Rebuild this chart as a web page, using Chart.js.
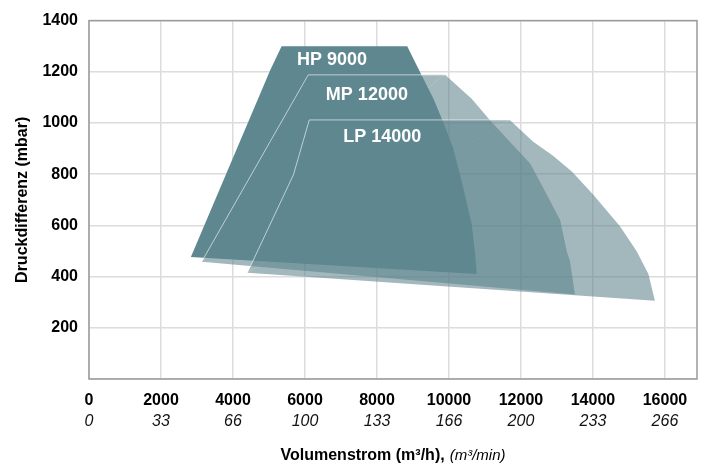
<!DOCTYPE html>
<html>
<head>
<meta charset="utf-8">
<script src="https://cdn.jsdelivr.net/npm/chart.js@4"></script>
<style>
html,body{margin:0;padding:0;background:#fff;}
#wrap{width:705px;height:466px;}
</style>
</head>
<body>
<div id="wrap"><canvas id="c" width="705" height="466"></canvas></div>
<script>
// ---- data ----
const seriesNames = ['HP 9000', 'MP 12000', 'LP 14000'];

const hpX = [2830, 5030, 5350, 8840, 9240, 9570, 9820, 10120, 10400, 10630, 10720, 10770];
const hpY = [477, 1205, 1300, 1300, 1187, 1095, 1010, 900, 745, 605, 500, 410];

const mpX = [3130, 5030, 6090, 9890, 10630, 11140, 11690, 12250, 12620, 13090, 13270, 13360, 13500];
const mpY = [458, 927, 1188, 1188, 1095, 1011, 927, 843, 746, 620, 500, 461, 330];

const lpX = [4400, 5680, 6120, 11690, 12340, 12900, 13420, 14010, 14750, 15210, 15540, 15720];
const lpY = [415, 798, 1012, 1012, 927, 871, 810, 720, 597, 500, 410, 306];

const xTickValues = [0, 2000, 4000, 6000, 8000, 10000, 12000, 14000, 16000];
const xTickLabelsMin = ['0', '33', '66', '100', '133', '166', '200', '233', '266'];
const yTickValues = [0, 200, 400, 600, 800, 1000, 1200, 1400];

const xTitleMain = 'Volumenstrom (m³/h),';
const xTitleSub = '(m³/min)';
const yTitle = 'Druckdifferenz (mbar)';

// label anchors (data coordinates)
const labelAnchorX = [5780, 6580, 7060];
const labelAnchorY = [1245, 1109, 946];

// ---- helpers ----
function closedPoly(xs, ys) {
  const pts = xs.map((x, i) => ({x: x, y: ys[i]}));
  pts.push({x: xs[0], y: ys[0]});
  return pts;
}

const BOLDF = '"Liberation Sans", Arial, sans-serif';
const REG = '"Liberation Sans", Arial, sans-serif';

const decor = {
  id: 'decor',
  afterDatasetsDraw(chart) {
    const {ctx, chartArea: a, scales} = chart;
    const x = scales.x, y = scales.y;
    ctx.save();
    // frame
    ctx.strokeStyle = '#9a9a9a';
    ctx.lineWidth = 1.5;
    ctx.strokeRect(a.left, a.top, a.right - a.left, a.bottom - a.top);
    // series labels
    ctx.fillStyle = '#ffffff';
    ctx.font = 'bold 18px ' + BOLDF;
    ctx.textBaseline = 'middle';
    ctx.textAlign = 'left';
    seriesNames.forEach((n, i) => {
      ctx.fillText(n, x.getPixelForValue(labelAnchorX[i]), y.getPixelForValue(labelAnchorY[i]));
    });
    // x axis title (mixed fonts)
    const fBold = 'bold 16px ' + BOLDF;
    const fIt = 'italic 15px ' + REG;
    ctx.font = fBold; const w1 = ctx.measureText(xTitleMain).width;
    ctx.font = fIt; const w2 = ctx.measureText(xTitleSub).width;
    const gap = 5;
    const cx = (a.left + a.right) / 2;
    const sx = cx - (w1 + gap + w2) / 2;
    const ty = chart.height - 10;
    ctx.fillStyle = '#000';
    ctx.font = fBold; ctx.fillText(xTitleMain, sx, ty);
    ctx.font = fIt; ctx.fillText(xTitleSub, sx + w1 + gap, ty);
    ctx.restore();
  }
};

const fillColor = 'rgba(92,130,139,0.57)';
const edgeColor = 'rgba(255,255,255,0.6)';
// only the left and top edges of the MP / LP outlines are drawn
const edgeSegment = {borderColor: c => (c.p0DataIndex < 3 ? edgeColor : 'rgba(0,0,0,0)')};

new Chart(document.getElementById('c'), {
  type: 'scatter',
  data: {
    datasets: [
      {label: seriesNames[0], data: closedPoly(hpX, hpY), showLine: true, fill: 'shape',
       backgroundColor: '#5f8790', borderColor: 'rgba(0,0,0,0)', borderWidth: 0, pointRadius: 0, tension: 0},
      {label: seriesNames[1], data: closedPoly(mpX, mpY), showLine: true, fill: 'shape',
       backgroundColor: fillColor, borderColor: edgeColor, borderWidth: 1, pointRadius: 0, tension: 0,
       segment: edgeSegment},
      {label: seriesNames[2], data: closedPoly(lpX, lpY), showLine: true, fill: 'shape',
       backgroundColor: fillColor, borderColor: edgeColor, borderWidth: 1, pointRadius: 0, tension: 0,
       segment: edgeSegment}
    ]
  },
  options: {
    responsive: false,
    animation: false,
    layout: {padding: {left: 0, top: 18, right: 8, bottom: 0}},
    plugins: {
      legend: {display: false},
      tooltip: {enabled: false},
      filler: {drawTime: 'beforeDatasetsDraw'}
    },
    scales: {
      x: {
        type: 'linear', position: 'bottom', min: 0, max: 16890, weight: 0,
        afterBuildTicks: s => { s.ticks = xTickValues.map(v => ({value: v})); },
        ticks: {callback: v => String(v), font: {family: BOLDF, size: 16, weight: 'bold'},
                color: '#000', padding: 12, maxRotation: 0, autoSkip: false},
        grid: {color: '#dcdcdc', lineWidth: 1.5, drawTicks: false},
        border: {display: false},
        afterFit: s => { s.height = 32; }
      },
      x2: {
        type: 'linear', position: 'bottom', min: 0, max: 16890, weight: 1,
        afterBuildTicks: s => { s.ticks = xTickValues.map(v => ({value: v})); },
        ticks: {callback: v => xTickLabelsMin[xTickValues.indexOf(v)],
                font: {family: REG, size: 16, style: 'italic'},
                color: '#111', padding: 1, maxRotation: 0, autoSkip: false},
        grid: {display: false, drawTicks: false},
        border: {display: false},
        afterFit: s => { s.height = 55; }
      },
      y: {
        min: 0, max: 1400,
        afterBuildTicks: s => { s.ticks = yTickValues.map(v => ({value: v})); },
        ticks: {callback: v => (v === 0 ? '' : String(v)), font: {family: BOLDF, size: 16, weight: 'bold'},
                color: '#000', padding: 11},
        grid: {color: '#dcdcdc', lineWidth: 1.5, drawTicks: false},
        border: {display: false},
        title: {display: true, text: yTitle, font: {family: BOLDF, size: 16, weight: 'bold'},
                color: '#000', padding: {top: 13, bottom: 0}},
        afterFit: s => { s.width = 89; }
      }
    }
  },
  plugins: [decor]
});
</script>
</body>
</html>
